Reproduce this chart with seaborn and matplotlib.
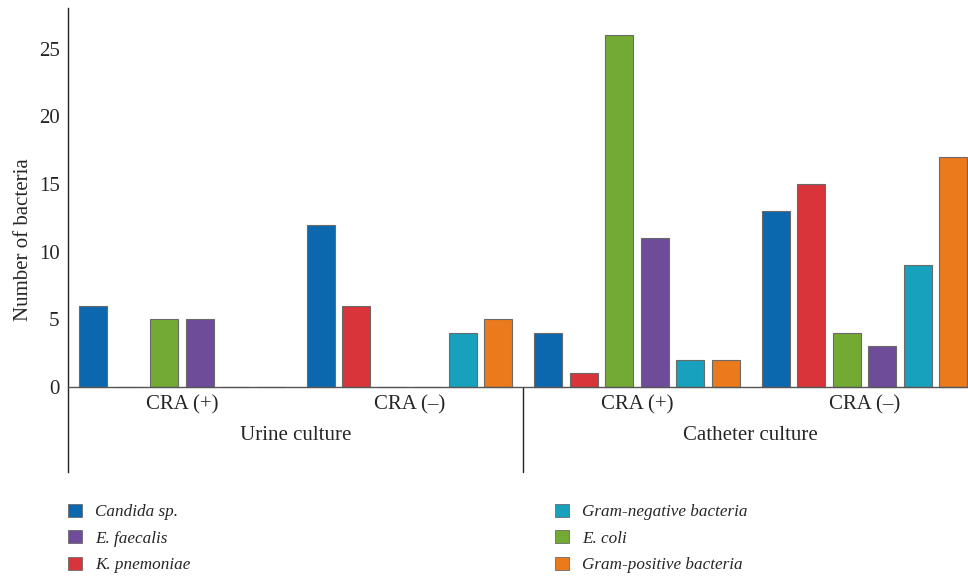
"""
Bacteria counts by culture type and CRA result, grouped bar chart.
"""

import matplotlib
matplotlib.use("Agg")
import matplotlib.pyplot as plt
import pandas as pd
import seaborn as sns
from matplotlib.patches import Patch

GROUPS = ["Urine CRA (+)", "Urine CRA (-)", "Catheter CRA (+)", "Catheter CRA (-)"]
GROUP_TICKS = ["CRA (+)", "CRA (\u2013)", "CRA (+)", "CRA (\u2013)"]
CULTURES = ["Urine culture", "Catheter culture"]

SPECIES = ["Candida sp.", "K. pnemoniae", "E. coli", "E. faecalis",
           "Gram-negative bacteria", "Gram-positive bacteria"]

CANDIDA = [6, 12, 4, 13]
K_PNEMONIAE = [0, 6, 1, 15]
E_COLI = [5, 0, 26, 4]
E_FAECALIS = [5, 0, 11, 3]
GRAM_NEG = [0, 4, 2, 9]
GRAM_POS = [0, 5, 2, 17]

COLORS = {
    "Candida sp.": "#0b68ae",
    "K. pnemoniae": "#d8343a",
    "E. coli": "#73aa33",
    "E. faecalis": "#6f4c9a",
    "Gram-negative bacteria": "#18a1bc",
    "Gram-positive bacteria": "#ea7a1b",
}

LEGEND_LEFT = ["Candida sp.", "E. faecalis", "K. pnemoniae"]
LEGEND_RIGHT = ["Gram-negative bacteria", "E. coli", "Gram-positive bacteria"]

FONT = "Liberation Serif"
W, H = 968, 577


def build_frame() -> pd.DataFrame:
    series = [CANDIDA, K_PNEMONIAE, E_COLI, E_FAECALIS, GRAM_NEG, GRAM_POS]
    rows = []
    for name, values in zip(SPECIES, series):
        for group, v in zip(GROUPS, values):
            rows.append({"group": group, "species": name, "count": v})
    return pd.DataFrame(rows)


def add_legend(fig, names, x_px, y_px):
    handles = [Patch(facecolor=COLORS[s], edgecolor="#6a6a6a", linewidth=0.6)
               for s in names]
    leg = fig.legend(
        handles, names, loc="upper left",
        bbox_to_anchor=(x_px / W, 1 - y_px / H), frameon=False,
        prop={"family": FONT, "style": "italic", "size": 12.3},
        handlelength=0.8, handleheight=0.8, handletextpad=0.8,
        labelspacing=0.58, borderpad=0, borderaxespad=0,
    )
    return leg


def main() -> None:
    sns.set_style("white")
    plt.rcParams["font.family"] = [FONT, "DejaVu Serif"]

    df = build_frame()
    fig = plt.figure(figsize=(W / 100, H / 100), dpi=100)
    ax = fig.add_axes([68 / W, 1 - 472 / H, 900 / W, 464 / H])

    sns.barplot(
        data=df, x="group", y="count", hue="species",
        order=GROUPS, hue_order=SPECIES, palette=COLORS, saturation=1,
        width=0.936, gap=0.21, edgecolor="#6a6a6a", linewidth=0.8,
        legend=False, ax=ax, zorder=3,
    )

    ax.set_xlim(-0.5, 3.455)
    ax.set_ylim(-6.29, 28.0)
    ax.set_yticks([0, 5, 10, 15, 20, 25])
    ax.tick_params(axis="both", length=0, labelsize=15, pad=6)
    ax.set_xticks(range(len(GROUPS)))
    ax.set_xticklabels(GROUP_TICKS)
    ax.set_xlabel("")
    ax.set_ylabel("Number of bacteria", fontsize=15, labelpad=4)

    for side in ["top", "right"]:
        ax.spines[side].set_visible(False)
    ax.spines["bottom"].set_position(("data", 0))
    ax.spines["bottom"].set_color("#555555")
    ax.spines["left"].set_color("#222222")
    ax.spines["bottom"].set_linewidth(1.0)
    ax.spines["left"].set_linewidth(1.0)
    ax.spines["bottom"].set_zorder(4)

    # divider between urine and catheter groups
    ax.plot([1.5, 1.5], [0, -6.29], color="#222222", lw=1.0, clip_on=False)
    for i, label in enumerate(CULTURES):
        ax.text(0.5 + 2 * i, -3.6, label, ha="center", va="center", fontsize=15)

    add_legend(fig, LEGEND_LEFT, 68, 504)
    add_legend(fig, LEGEND_RIGHT, 555, 504)

    fig.savefig("out.png", dpi=100)
    plt.close(fig)


if __name__ == "__main__":
    main()
